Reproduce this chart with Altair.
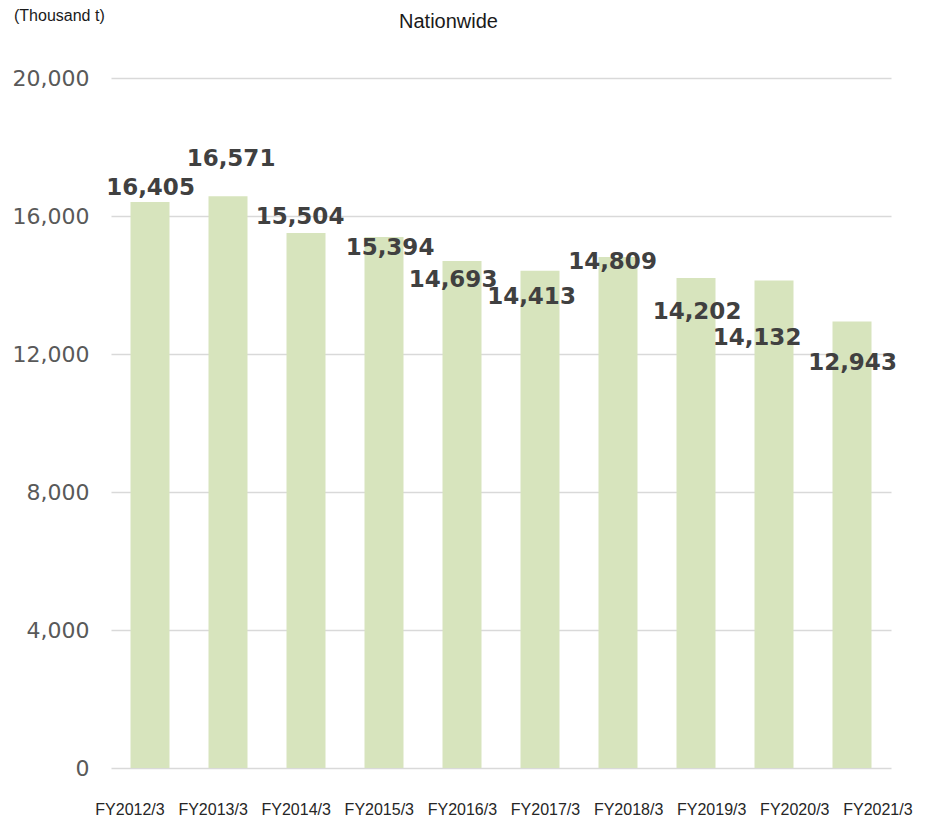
import altair as alt
import pandas as pd

years = ["FY2012/3", "FY2013/3", "FY2014/3", "FY2015/3", "FY2016/3",
         "FY2017/3", "FY2018/3", "FY2019/3", "FY2020/3", "FY2021/3"]
values = [16405, 16571, 15504, 15394, 14693, 14413, 14809, 14202, 14132, 12943]
# hand-placed label offsets (pixels) as in the reference
label_dx = [0.5, 3, -6, 6, -9, -8.5, -5.5, 1, -17, 0.5]
label_dy = [-14.5, -37.6, -16.4, 10.6, 19, 26, 5.4, 34, 57.6, 41.5]

PLOT_W, PLOT_H = 780, 690
Y_MAX = 20000
BAND_HALF = 19.5        # half of the bar band width (step 78, paddingInner 0.5)
CAT_LABEL_START = -20   # category labels in the reference are spread wider than the bars
CAT_LABEL_STEP = 5.1

df = pd.DataFrame({"year": years, "value": values})
df["label"] = df["value"].map(lambda v: f"{v:,}")
df["ly"] = [v - d * Y_MAX / PLOT_H for v, d in zip(values, label_dy)]
df["lx"] = [d + BAND_HALF for d in label_dx]
df["cx"] = [BAND_HALF + CAT_LABEL_START + CAT_LABEL_STEP * i for i in range(len(years))]

x_enc = alt.X("year:N", sort=years, title=None,
              scale=alt.Scale(paddingInner=0.5, paddingOuter=0.25),
              axis=alt.Axis(labels=False, ticks=False, domain=False, grid=False))
y_enc = alt.Y("value:Q", title=None,
              scale=alt.Scale(domain=[0, Y_MAX], nice=False),
              axis=alt.Axis(values=[0, 4000, 8000, 12000, 16000, 20000], format=",.0f",
                            labelFont="DejaVu Sans", labelFontSize=22, labelColor="#595959",
                            labelPadding=22, ticks=False, domain=False,
                            gridColor="#D9D9D9", gridWidth=1.5))

base = alt.Chart(df)

bars = base.mark_bar(color="#D7E4BD").encode(x=x_enc, y=y_enc)

labels = base.mark_text(font="DejaVu Sans", fontSize=23, fontWeight="bold",
                        color="#404040", baseline="middle", align="center").encode(
    x=alt.X("year:N", sort=years),
    y=alt.Y("ly:Q"),
    xOffset=alt.XOffset("lx:Q", scale=None),
    text="label:N",
)

cat_labels = base.mark_text(font="Liberation Sans", fontSize=16, color="#262626",
                            baseline="middle", align="center").encode(
    x=alt.X("year:N", sort=years),
    y=alt.value(PLOT_H + 42),
    xOffset=alt.XOffset("cx:Q", scale=None),
    text="year:N",
)

title_df = pd.DataFrame({"t": ["Nationwide"]})
title = alt.Chart(title_df).mark_text(font="Liberation Sans", fontSize=20, color="#1a1a1a",
                                      align="center", baseline="middle").encode(
    x=alt.value(337.5), y=alt.value(-56), text="t:N")

unit_df = pd.DataFrame({"t": ["(Thousand t)"]})
unit = alt.Chart(unit_df).mark_text(font="Liberation Sans", fontSize=16, color="#1a1a1a",
                                    align="left", baseline="middle").encode(
    x=alt.value(-97), y=alt.value(-62), text="t:N")

chart = alt.layer(bars, labels, cat_labels, title, unit).properties(
    width=PLOT_W, height=PLOT_H,
    autosize=alt.AutoSizeParams(type="none"),
    padding={"left": 103, "top": 70, "right": 28, "bottom": 51},
).configure_view(stroke=None)

chart.save("out.html", embed_options={"renderer": "svg", "actions": False})
